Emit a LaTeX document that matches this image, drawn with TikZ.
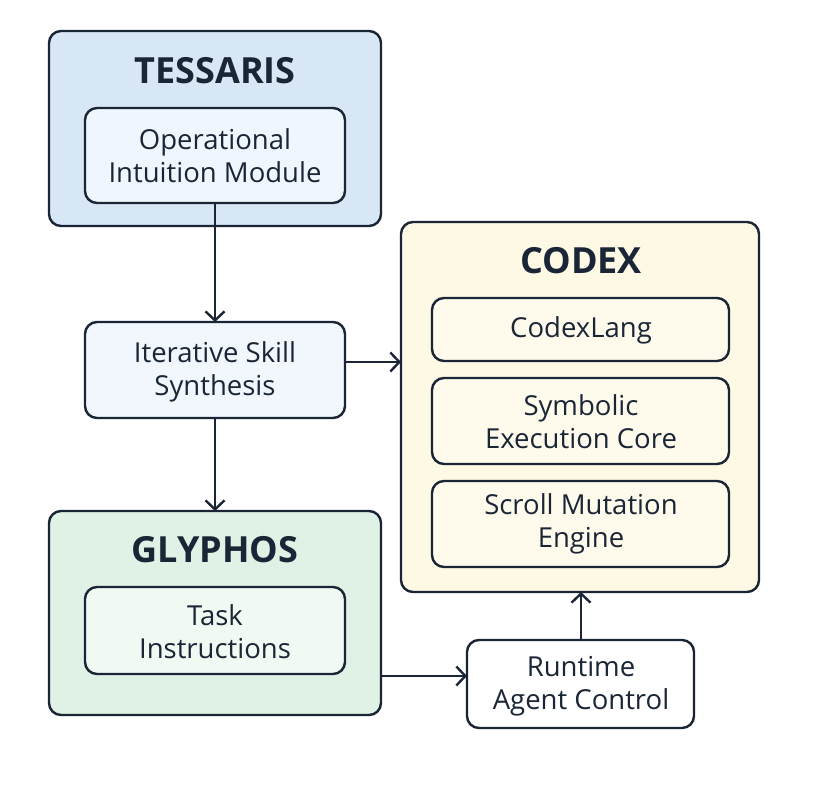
\documentclass[tikz,border=0pt]{standalone}
\usepackage{fontspec}
\setmainfont{Open Sans}
\usetikzlibrary{arrows.meta}
\definecolor{ink}{HTML}{1A2535}
\definecolor{blueout}{HTML}{D8E7F6}
\definecolor{bluein}{HTML}{EFF6FD}
\definecolor{iterfill}{HTML}{F1F7FD}
\definecolor{greenout}{HTML}{DFF2E5}
\definecolor{greenin}{HTML}{F0F9F2}
\definecolor{yellowout}{HTML}{FDF9E5}
\definecolor{yellowin}{HTML}{FEFBEC}
\tikzset{
  box/.style={draw=ink, line width=2.4pt, rounded corners=12pt},
  body/.style={font=\fontsize{27.5}{33}\selectfont, text=ink, align=center},
  title/.style={font=\fontsize{36}{40}\selectfont\bfseries, text=ink},
  conn/.style={draw=ink, line width=2.4pt, -{Straight Barb[length=9pt,width=19pt,line width=2.4pt]}}
}
\begin{document}
\begin{tikzpicture}[x=1pt,y=-1pt]
\useasboundingbox (0,0) rectangle (836,788);
\fill[white] (0,0) rectangle (836,788);
% TESSARIS
\draw[box, fill=blueout] (49,31) rectangle (381,226);
\node[title] (tessT) at (215,71) {TESSARIS};
\draw[box, fill=bluein] (85,108) rectangle (345,203);
\coordinate (opB) at (215,203);
\node[body] (op) at (215,156) {Operational\\Intuition Module};
% Iterative
\draw[box, fill=iterfill] (85,322) rectangle (345,418);
\coordinate (itT) at (215,322);
\coordinate (itB) at (215,418);
\coordinate (itR) at (345,362);
\node[body] (it) at (215,372) {Iterative Skill\\Synthesis};
% GLYPHOS
\draw[box, fill=greenout] (49,511) rectangle (381,715);
\coordinate (glT) at (215,511);
\coordinate (glR) at (381,676);
\node[title] (glT2) at (215,550) {GLYPHOS};
\draw[box, fill=greenin] (85,587) rectangle (345,674);
\node[body] (task) at (215,632) {Task\\Instructions};
% CODEX
\draw[box, fill=yellowout] (401,222) rectangle (759,592);
\coordinate (cxL) at (401,362);
\coordinate (cxB) at (581,592);
\node[title] (cxT) at (581,261) {CODEX};
\draw[box, fill=yellowin] (432,298) rectangle (729,361);
\node[body] (lang) at (581,330) {CodexLang};
\draw[box, fill=yellowin] (432,378) rectangle (729,464);
\node[body] (sym) at (581,422) {Symbolic\\Execution Core};
\draw[box, fill=yellowin] (432,481) rectangle (729,567);
\node[body] (scr) at (581,524) {Scroll Mutation\\Engine};
% Runtime
\draw[box, fill=white] (467,640) rectangle (694,728);
\coordinate (rtT) at (581,640);
\coordinate (rtL) at (467,676);
\node[body] (rt) at (581,686) {Runtime\\Agent Control};
% connectors
\draw[conn] (opB) -- (itT);
\draw[conn] (itB) -- (glT);
\draw[conn] (itR) -- (cxL);
\draw[conn] (glR) -- (rtL);
\draw[conn] (rtT) -- (cxB);
\end{tikzpicture}
\end{document}
